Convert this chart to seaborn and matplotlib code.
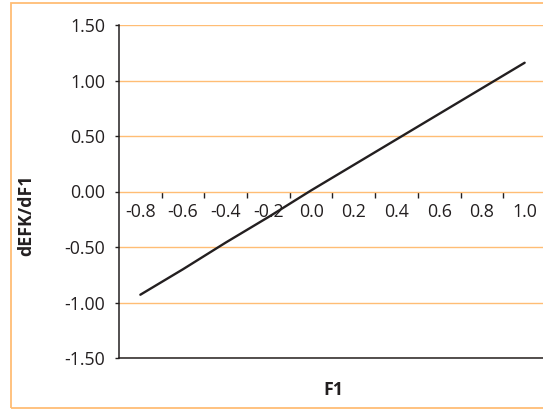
import numpy as np
import pandas as pd
import matplotlib
matplotlib.use("Agg")
import matplotlib.pyplot as plt
import seaborn as sns
from matplotlib.patches import Rectangle
from matplotlib.ticker import FixedLocator, FormatStrFormatter

categories = ["-0.8", "-0.6", "-0.4", "-0.2", "0.0", "0.2", "0.4", "0.6", "0.8", "1.0"]
dEFK_dF1 = [-0.93, -0.70, -0.46, -0.23, 0.01, 0.24, 0.47, 0.70, 0.93, 1.16]
y_ticks = [-1.5, -1.0, -0.5, 0.0, 0.5, 1.0, 1.5]

sns.set_style("white")
plt.rcParams["font.family"] = ["Open Sans", "DejaVu Sans"]

ORANGE = "#FFBD75"
INK = "#231F20"
FS = 12.8

fig = plt.figure(figsize=(5.43, 4.09), dpi=100)
W, H = 543, 409
ax = fig.add_axes([119 / W, 1 - 358 / H, 427 / W, 333 / H])

df = pd.DataFrame({"pos": np.arange(len(categories)), "val": dEFK_dF1})
sns.lineplot(data=df, x="pos", y="val", ax=ax, color=INK, linewidth=1.7)

ax.set_xlim(-0.5, len(categories) - 0.5)
ax.set_ylim(-1.5, 1.5)
ax.set_yticks(y_ticks)
ax.yaxis.set_major_formatter(FormatStrFormatter("%.2f"))
ax.set_xticks([])
ax.grid(axis="y", color=ORANGE, linewidth=1.0)
ax.set_axisbelow(True)
for s in ["top", "right"]:
    ax.spines[s].set_visible(False)
for s in ["left", "bottom"]:
    ax.spines[s].set_color(INK)
    ax.spines[s].set_linewidth(1.1)
ax.tick_params(axis="y", which="major", left=True, length=3, width=1, color=INK,
               direction="out", pad=7, labelsize=FS, labelcolor=INK)

ax.set_ylabel("dEFK/dF1", fontsize=FS, fontweight="bold", color=INK)
ax.yaxis.set_label_coords(-0.197, 0.43)
ax.set_xlabel("F1", fontsize=FS, fontweight="bold", color=INK)
ax.xaxis.set_label_coords(0.501, -0.069)

sec = ax.secondary_xaxis(0.5)
sec.spines["bottom"].set_visible(False)
sec.spines["top"].set_visible(False)
sec.xaxis.set_ticks_position("bottom")
sec.xaxis.set_major_locator(FixedLocator(np.arange(len(categories) - 1) + 0.5))
sec.set_xticks(np.arange(len(categories) - 1) + 0.5, labels=[""] * (len(categories) - 1))
sec.set_xticks(np.arange(len(categories)), labels=categories, minor=True)
sec.tick_params(axis="x", which="both", bottom=True, top=False,
                labelbottom=True, labeltop=False)
sec.tick_params(axis="x", which="major", length=4, width=1, color=INK, direction="out")
sec.tick_params(axis="x", which="minor", length=0, pad=8, labelsize=FS, labelcolor=INK)

fig.patches.append(Rectangle((10.5 / W, 1.5 / H), (W + 10) / W, 405 / H,
                             transform=fig.transFigure, fill=False,
                             edgecolor=ORANGE, linewidth=1.3, zorder=-1))

fig.savefig("out.png", dpi=100)
